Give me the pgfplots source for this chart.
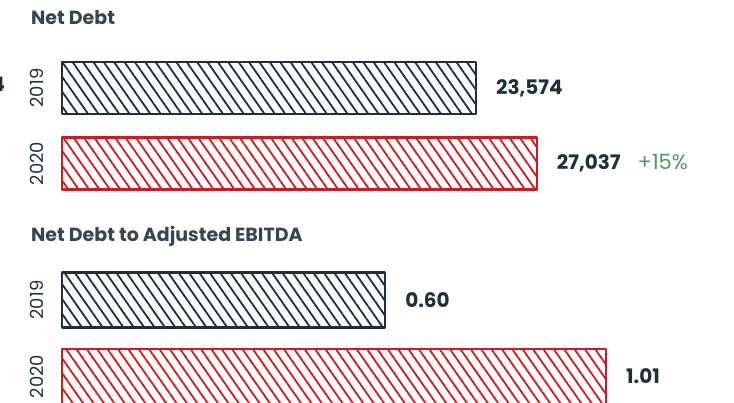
\documentclass[border=0pt]{standalone}
\usepackage{pgfplots}
\pgfplotsset{compat=1.18}
\usetikzlibrary{patterns.meta}
\usepackage{fontspec}
\setmainfont{Poppins}
\definecolor{dk}{HTML}{1E313B}
\definecolor{rd}{HTML}{D11A20}
\definecolor{ttl}{HTML}{36464E}
\definecolor{grn}{HTML}{4F9A63}
\pgfplotsset{
  panel/.style={
    anchor=south west, scale only axis, width=672pt,
    ymin=-0.5, ymax=1.5, xmin=0, clip=false,
    hide x axis, axis line style={draw=none},
    ytick={0,1}, yticklabels={2020,2019}, ytick pos=left,
    ytick style={draw=none},
    yticklabel style={rotate=90, anchor=south, inner sep=0pt, text=dk,
      font=\fontsize{18}{20}\selectfont},
    yticklabel shift=18pt,
    nodes near coords, point meta=explicit symbolic,
    nodes near coords style={anchor=west, inner sep=0pt, xshift=19pt,
      text=dk, font=\bfseries\fontsize{20}{23}\selectfont},
  },
  darkbar/.style={xbar, bar shift=0pt, draw=dk, line width=2.3pt, line join=round,
    pattern={Lines[angle=-55,distance=8.5pt,line width=1.8pt]}, pattern color=dk},
  redbar/.style={xbar, bar shift=0pt, draw=rd, line width=2.3pt, line join=round,
    pattern={Lines[angle=-55,distance=8.5pt,line width=1.8pt]}, pattern color=rd},
}
\begin{document}
\begin{tikzpicture}[x=1pt,y=1pt]
\path[use as bounding box] (0,0) rectangle (734,403);
\node[anchor=base east, inner sep=0pt, text=dk, font=\bfseries\fontsize{20}{23}\selectfont] at (5,311) {4};
\node[anchor=base west, inner sep=0pt, text=ttl, font=\bfseries\fontsize{19}{22}\selectfont] at (31,378) {Net Debt};
\node[anchor=base west, inner sep=0pt, text=ttl, font=\bfseries\fontsize{19}{22}\selectfont] at (31,161) {Net Debt to Adjusted EBITDA};
\begin{axis}[panel, at={(62pt,201.75pt)}, height=151pt, xmax=38265, bar width=52pt]
\addplot[darkbar] coordinates {(23574,1) [{23,574}]};
\addplot[redbar] coordinates {(27037,0) [{27,037\hspace{17pt}\textcolor{grn}{\mdseries\fontsize{21}{23}\selectfont +15\%}}]};
\end{axis}
\begin{axis}[panel, at={(62pt,-11.75pt)}, height=153pt, xmax=1.2477, bar width=55pt]
\addplot[darkbar] coordinates {(0.60,1) [{0.60}]};
\addplot[redbar] coordinates {(1.01,0) [{1.01}]};
\end{axis}
\end{tikzpicture}
\end{document}
